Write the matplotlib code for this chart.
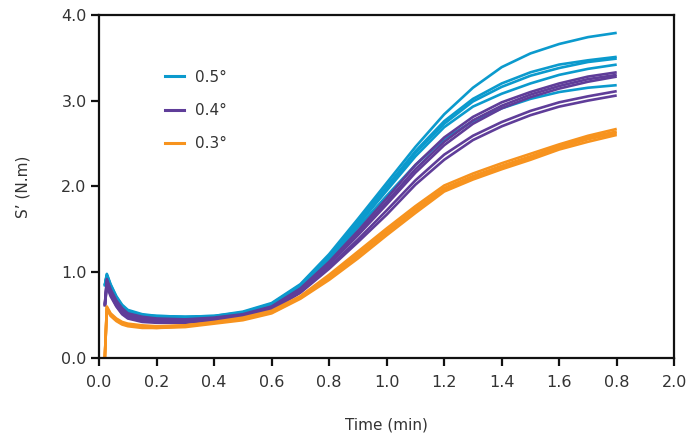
import matplotlib.pyplot as plt
from matplotlib.lines import Line2D

plt.rcParams['font.family'] = ['DejaVu Sans']

# ------------------------------------------------------------
# Data (time in min, S' in N.m)
# ------------------------------------------------------------
time_min = [0.02, 0.027, 0.04, 0.06, 0.08, 0.10, 0.15, 0.20, 0.30, 0.40, 0.50, 0.60,
            0.70, 0.80, 0.90, 1.00, 1.10, 1.20, 1.30, 1.40, 1.50, 1.60, 1.70, 1.80]

# 0.5 deg strain
blue_1 = [0.85, 0.98, 0.86, 0.72, 0.62, 0.56, 0.51, 0.49, 0.48, 0.49, 0.54, 0.64,
          0.86, 1.21, 1.62, 2.04, 2.46, 2.84, 3.15, 3.39, 3.55, 3.66, 3.74, 3.79]
blue_2 = [0.85, 0.97, 0.85, 0.71, 0.61, 0.55, 0.50, 0.49, 0.48, 0.49, 0.53, 0.63,
          0.85, 1.19, 1.59, 2.00, 2.41, 2.76, 3.02, 3.20, 3.33, 3.42, 3.47, 3.51]
blue_3 = [0.84, 0.96, 0.84, 0.70, 0.60, 0.54, 0.50, 0.48, 0.47, 0.48, 0.53, 0.63,
          0.84, 1.18, 1.57, 1.98, 2.39, 2.73, 2.99, 3.16, 3.29, 3.38, 3.45, 3.49]
blue_4 = [0.84, 0.96, 0.84, 0.70, 0.60, 0.54, 0.49, 0.48, 0.47, 0.48, 0.52, 0.62,
          0.83, 1.16, 1.55, 1.95, 2.35, 2.69, 2.93, 3.08, 3.20, 3.30, 3.37, 3.42]
blue_5 = [0.83, 0.95, 0.83, 0.69, 0.59, 0.53, 0.49, 0.47, 0.47, 0.48, 0.52, 0.62,
          0.82, 1.14, 1.52, 1.89, 2.25, 2.55, 2.76, 2.91, 3.02, 3.10, 3.15, 3.18]

# 0.4 deg strain
purple_1 = [0.62, 0.92, 0.80, 0.67, 0.58, 0.52, 0.48, 0.46, 0.45, 0.47, 0.51, 0.60,
            0.81, 1.12, 1.48, 1.86, 2.25, 2.57, 2.81, 2.98, 3.10, 3.20, 3.28, 3.33]
purple_2 = [0.62, 0.90, 0.78, 0.65, 0.56, 0.50, 0.46, 0.45, 0.44, 0.46, 0.50, 0.59,
            0.80, 1.10, 1.45, 1.82, 2.20, 2.52, 2.77, 2.94, 3.07, 3.17, 3.25, 3.30]
purple_3 = [0.61, 0.88, 0.76, 0.63, 0.54, 0.49, 0.45, 0.43, 0.43, 0.45, 0.49, 0.58,
            0.79, 1.09, 1.43, 1.79, 2.16, 2.48, 2.73, 2.91, 3.04, 3.14, 3.22, 3.28]
purple_4 = [0.60, 0.86, 0.74, 0.61, 0.52, 0.47, 0.43, 0.42, 0.42, 0.44, 0.48, 0.57,
            0.77, 1.06, 1.38, 1.72, 2.07, 2.37, 2.59, 2.75, 2.88, 2.98, 3.05, 3.11]
purple_5 = [0.60, 0.84, 0.72, 0.60, 0.51, 0.46, 0.42, 0.41, 0.41, 0.43, 0.47, 0.56,
            0.76, 1.04, 1.35, 1.67, 2.02, 2.31, 2.54, 2.70, 2.83, 2.93, 3.00, 3.06]

# 0.3 deg strain
orange_1 = [0.00, 0.60, 0.52, 0.46, 0.42, 0.40, 0.38, 0.37, 0.38, 0.42, 0.47, 0.55,
            0.72, 0.97, 1.24, 1.51, 1.77, 2.01, 2.15, 2.27, 2.38, 2.49, 2.59, 2.67]
orange_2 = [0.00, 0.59, 0.51, 0.45, 0.41, 0.39, 0.37, 0.36, 0.38, 0.41, 0.46, 0.54,
            0.71, 0.95, 1.21, 1.48, 1.74, 1.98, 2.12, 2.24, 2.35, 2.47, 2.57, 2.64]
orange_3 = [0.00, 0.58, 0.50, 0.44, 0.40, 0.38, 0.36, 0.35, 0.37, 0.41, 0.45, 0.53,
            0.70, 0.93, 1.19, 1.46, 1.72, 1.96, 2.10, 2.22, 2.33, 2.45, 2.55, 2.62]
orange_4 = [0.00, 0.57, 0.49, 0.43, 0.39, 0.37, 0.35, 0.35, 0.36, 0.40, 0.44, 0.52,
            0.69, 0.91, 1.16, 1.43, 1.69, 1.94, 2.08, 2.20, 2.31, 2.43, 2.52, 2.60]

x_ticks = [0.0, 0.2, 0.4, 0.6, 0.8, 1.0, 1.2, 1.4, 1.6, 1.8, 2.0]
x_tick_labels = ['0.0', '0.2', '0.4', '0.6', '0.8', '1.0', '1.2', '1.4', '1.6', '0.8', '2.0']
y_ticks = [0.0, 1.0, 2.0, 3.0, 4.0]
y_tick_labels = ['0.0', '1.0', '2.0', '3.0', '4.0']

series = [
    ('0.5°', '#0b9acd', [blue_1, blue_2, blue_3, blue_4, blue_5]),
    ('0.4°', '#5f3d99', [purple_1, purple_2, purple_3, purple_4, purple_5]),
    ('0.3°', '#f7931e', [orange_1, orange_2, orange_3, orange_4]),
]

# ------------------------------------------------------------
# Figure
# ------------------------------------------------------------
fig = plt.figure(figsize=(6.88, 4.36), dpi=100)
ax = fig.add_axes([0.144, 0.179, 0.836, 0.787])

handles = []
for label, color, curves in series:
    for y in curves:
        ax.plot(time_min, y, color=color, linewidth=1.9, solid_capstyle='butt')
    handles.append(Line2D([], [], color=color, linewidth=2.2, label=label))

ax.set_xlim(0, 2.0)
ax.set_ylim(0, 4.0)
ax.set_xticks(x_ticks)
ax.set_xticklabels(x_tick_labels)
ax.set_yticks(y_ticks)
ax.set_yticklabels(y_tick_labels)

for side in ['top', 'right', 'left', 'bottom']:
    ax.spines[side].set_linewidth(1.6)
    ax.spines[side].set_color('#111111')
ax.tick_params(direction='out', length=6, width=1.6, colors='#111111',
               labelsize=11.5, labelcolor='#333333')
ax.tick_params(axis='x', pad=6)
ax.tick_params(axis='y', pad=3)

ax.set_xlabel('Time (min)', fontsize=11, color='#333333', labelpad=20)
ax.set_ylabel('S’ (N.m)', fontsize=11, color='#333333', labelpad=22)

ax.legend(handles=handles, loc='upper left', bbox_to_anchor=(0.09, 0.88),
          frameon=False, fontsize=11, handlelength=1.3, handletextpad=0.7,
          labelspacing=1.2, labelcolor='#333333')

fig.savefig('out.png', dpi=100)
